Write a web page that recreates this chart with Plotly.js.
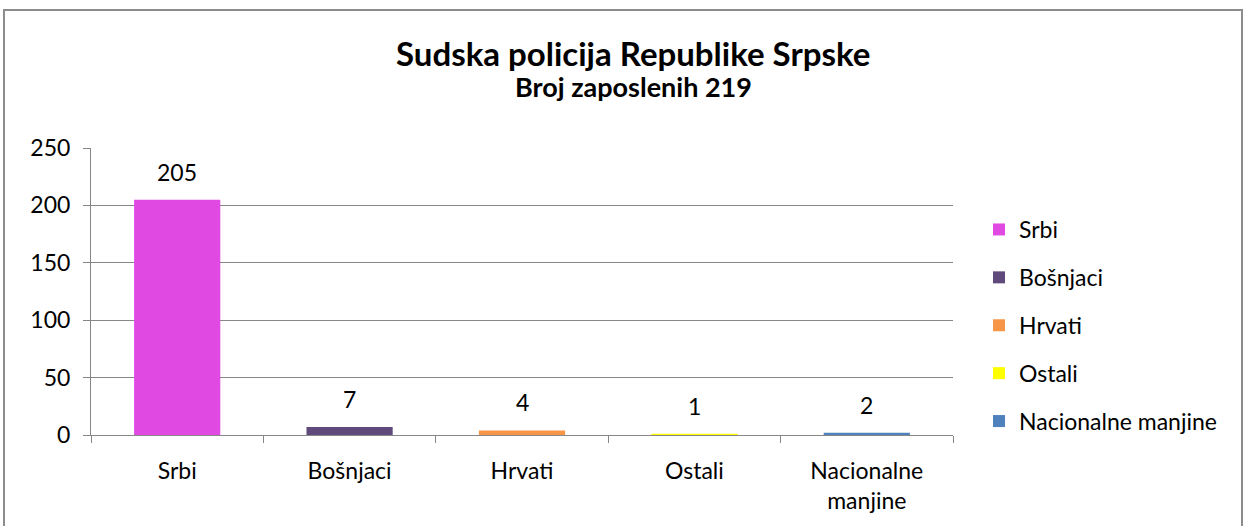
<!DOCTYPE html>
<html><head><meta charset="utf-8">
<script src="https://cdn.plot.ly/plotly-3.0.1.min.js"></script>
<style>html,body{margin:0;padding:0;background:#fff}#c{width:1246px;height:526px}</style>
</head><body><div id="c"></div>
<script>
const categories = ["Srbi", "Bošnjaci", "Hrvati", "Ostali", "Nacionalne manjine"];
const tickLabels = ["Srbi", "Bošnjaci", "Hrvati", "Ostali", "Nacionalne<br>manjine"];
const values = [205, 7, 4, 1, 2];
const colors = ["#E04AE3", "#604A7B", "#F79646", "#FFFF00", "#4F81BD"];
const yTicks = [0, 50, 100, 150, 200, 250];

const FONT = "Lato, 'Noto Sans', sans-serif";
const traces = categories.map((c, i) => ({
  type: "bar",
  name: c,
  legendgroup: "g" + i,
  x: [tickLabels[i]],
  y: [values[i]],
  marker: {color: colors[i]},
  width: 0.5,
  hoverinfo: "skip"
}));

const L = 91, R = 953, T = 148, B = 435, W = 1246, H = 526;
const pw = R - L, ph = B - T;

const labelAnns = categories.map((c, i) => ({
  text: String(values[i]), x: tickLabels[i], y: values[i],
  xref: "x", yref: "y", xanchor: "center", yanchor: "bottom", yshift: 12,
  showarrow: false, font: {family: FONT, size: 23, color: "#000"}
}));

const layout = {
  width: W, height: H,
  margin: {l: L, r: W - R, t: T, b: H - B, pad: 0},
  paper_bgcolor: "#fff", plot_bgcolor: "#fff",
  barmode: "overlay",
  showlegend: true,
  legend: {
    x: (979 - L) / pw, y: (B - 208) / ph, xanchor: "left", yanchor: "top",
    font: {family: FONT, size: 23, color: "#000"},
    itemwidth: 30, tracegroupgap: 15, traceorder: "grouped",
    bgcolor: "rgba(0,0,0,0)"
  },
  xaxis: {
    type: "category",
    tickvals: tickLabels, ticktext: tickLabels,
    tickson: "boundaries",
    ticks: "outside", ticklen: 7, tickcolor: "#878787", tickwidth: 1,
    ticklabelstandoff: 15,
    showline: true, linecolor: "#878787", linewidth: 1,
    showgrid: false,
    tickfont: {family: FONT, size: 23, color: "#000"},
    fixedrange: true
  },
  yaxis: {
    range: [0, 250],
    tickvals: yTicks,
    ticks: "outside", ticklen: 7, tickcolor: "#878787",
    ticklabelstandoff: 8,
    showline: true, linecolor: "#878787", linewidth: 1,
    showgrid: true, gridcolor: "#878787", gridwidth: 1,
    zeroline: false,
    tickfont: {family: FONT, size: 23, color: "#000"},
    fixedrange: true
  },
  shapes: [{
    type: "rect", xref: "paper", yref: "paper",
    x0: (4 - L) / pw, x1: (1242 - L) / pw,
    y0: (B - 540) / ph, y1: (B - 10) / ph,
    line: {color: "#8c8c8c", width: 2}, fillcolor: "rgba(0,0,0,0)", layer: "below"
  }],
  annotations: [
    {text: "<b>Sudska policija Republike Srpske</b>", xref: "paper", yref: "paper",
     x: (633 - L) / pw, y: (B - 53) / ph, xanchor: "center", yanchor: "middle",
     showarrow: false, font: {family: FONT, size: 33, color: "#000"}},
    {text: "<b>Broj zaposlenih 219</b>", xref: "paper", yref: "paper",
     x: (633 - L) / pw, y: (B - 86) / ph, xanchor: "center", yanchor: "middle",
     showarrow: false, font: {family: FONT, size: 27, color: "#000"}}
  ].concat(labelAnns)
};
Plotly.newPlot("c", traces, layout, {staticPlot: true, displayModeBar: false});
</script></body></html>
